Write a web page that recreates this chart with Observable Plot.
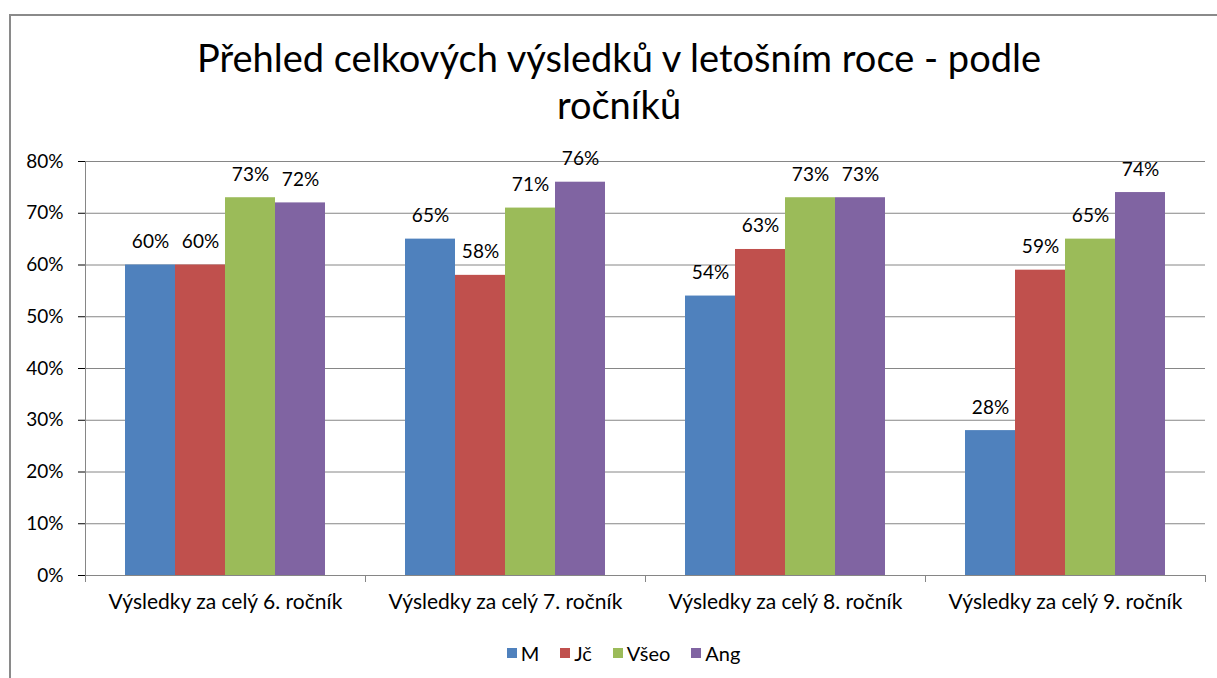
<!DOCTYPE html>
<html><head><meta charset="utf-8">
<script src="https://cdn.jsdelivr.net/npm/d3@7"></script>
<script src="https://cdn.jsdelivr.net/npm/@observablehq/plot@0.6"></script>
<style>
body{margin:0;background:#fff;font-family:Lato, sans-serif;overflow:hidden;}
#frame{position:absolute;left:9px;top:14px;width:1400px;height:900px;border-top:2px solid #8a8a8a;border-left:2px solid #8a8a8a;}
#title{position:absolute;left:0;width:1238px;top:34px;text-align:center;font-size:38px;line-height:47px;color:#000;}
#chart{position:absolute;left:0;top:140px;}
#legend{position:absolute;left:0;width:1268px;top:636px;display:flex;justify-content:center;}
.leg-swatch{margin-right:21px !important;}
.leg-swatch>svg{margin-right:4px !important;}
</style></head>
<body>
<div id="frame"></div>
<div id="title">Přehled celkových výsledků v letošním roce - podle<br>ročníků</div>
<div id="chart"></div>
<div id="legend"></div>
<script>
const categories = ["Výsledky za celý 6. ročník", "Výsledky za celý 7. ročník", "Výsledky za celý 8. ročník", "Výsledky za celý 9. ročník"];
const series = ["M", "Jč", "Všeo", "Ang"];
const valuesM = [0.60, 0.65, 0.54, 0.28];
const valuesJc = [0.60, 0.58, 0.63, 0.59];
const valuesVseo = [0.73, 0.71, 0.73, 0.65];
const valuesAng = [0.72, 0.76, 0.73, 0.74];
const colors = ["#4F81BD", "#C0504D", "#9BBB59", "#8064A2"];
const yTicks = [0, 0.1, 0.2, 0.3, 0.4, 0.5, 0.6, 0.7, 0.8];

const seriesValues = [valuesM, valuesJc, valuesVseo, valuesAng];
const rows = [];
categories.forEach((c, i) => series.forEach((s, j) => rows.push({category: c, series: s, value: seriesValues[j][i]})));
const pct = d3.format(".0%");

const chart = Plot.plot({
  width: 1217, height: 485,
  marginLeft: 85, marginRight: 12, marginTop: 21, marginBottom: 50,
  style: {fontFamily: "Lato, sans-serif", fontSize: "19px", color: "#000", background: "transparent", overflow: "visible"},
  x: {domain: series, paddingInner: 0, paddingOuter: 0.75, axis: null},
  y: {domain: [0, 0.8], ticks: yTicks, tickFormat: pct, label: null, tickSize: 7, tickPadding: 15},
  fx: {domain: categories, padding: 0, label: null, axis: null},
  color: {domain: series, range: colors},
  marks: [
    Plot.gridY(yTicks, {stroke: "#868686", strokeOpacity: 1}),
    Plot.barY(rows, {fx: "category", x: "series", y: "value", fill: "series"}),
    Plot.text(rows, {fx: "category", x: "series", y: "value", text: d => pct(d.value), dy: -17, lineAnchor: "bottom", fill: "#000"}),
    Plot.axisFx({domain: categories, anchor: "bottom", label: null, tickSize: 0, tickPadding: 19, fontSize: 21})
  ]
});
document.getElementById("chart").append(chart);

// category boundary ticks and y-axis line, positioned through Plot's own scales
const fxS = chart.scale("fx"), yS = chart.scale("y");
const y0 = yS.apply(0), yTop = yS.apply(0.8);
const edges = categories.map(c => fxS.apply(c)).concat([fxS.apply(categories[categories.length - 1]) + fxS.bandwidth]);
const g = d3.select(chart).append("g").attr("stroke", "#868686").attr("transform", "translate(0.5,0)");
edges.forEach(x => g.append("line").attr("x1", x).attr("x2", x).attr("y1", y0).attr("y2", y0 + 7));
g.append("line").attr("x1", edges[0]).attr("x2", edges[0]).attr("y1", yTop).attr("y2", y0);

const legend = Plot.legend({
  color: {domain: series, range: colors},
  legend: "swatches", swatchSize: 10, className: "leg",
  style: {fontSize: "20px", fontFamily: "Lato, sans-serif", color: "#000"}
});
document.getElementById("legend").append(legend);
</script>
</body></html>
